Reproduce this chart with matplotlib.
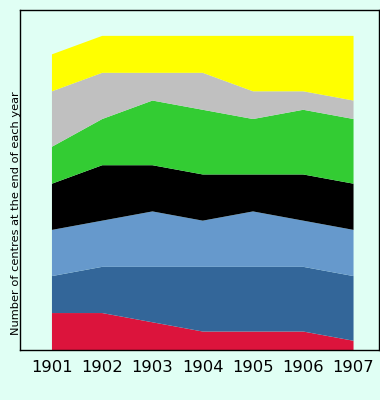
import numpy as np
import matplotlib
matplotlib.use("Agg")
import matplotlib.pyplot as plt

# centres per year, bottom layer first
years = [1901, 1902, 1903, 1904, 1905, 1906, 1907]
red = [4, 4, 3, 2, 2, 2, 1]
dark_blue = [4, 5, 6, 7, 7, 7, 7]
light_blue = [5, 5, 6, 5, 6, 5, 5]
black = [5, 6, 5, 5, 4, 5, 5]
green = [4, 5, 7, 7, 6, 7, 7]
grey = [6, 5, 3, 4, 3, 2, 2]
yellow = [4, 4, 4, 4, 6, 6, 7]

layers = [red, dark_blue, light_blue, black, green, grey, yellow]
colours = ['#dc143c', '#336699', '#6699cc', '#000000', '#33cc33', '#c0c0c0', '#ffff00']

bg = '#e0fff4'
fig = plt.figure(figsize=(3.8, 4.0), dpi=100, facecolor=bg)
ax = fig.add_axes([20/380, 50/400, 358.5/380, 340/400])
ax.set_facecolor(bg)

ax.stackplot(years, *layers, colors=colours, linewidth=0)

ax.set_xlim(1901 - 32/50.33, 1907 + 25/50.33)
ax.set_ylim(0, 36.8)
ax.set_xticks(years)
ax.set_xticklabels([str(y) for y in years], fontsize=11.8)
ax.set_yticks([])
ax.tick_params(axis='x', length=0, pad=7)
for s in ax.spines.values():
    s.set_linewidth(1.0)

fig.text(16/380, 1 - 213/400, "Number of centres at the end of each year",
         rotation=90, ha='center', va='center', fontsize=8.2)

fig.savefig("out.png", dpi=100, facecolor=bg)
